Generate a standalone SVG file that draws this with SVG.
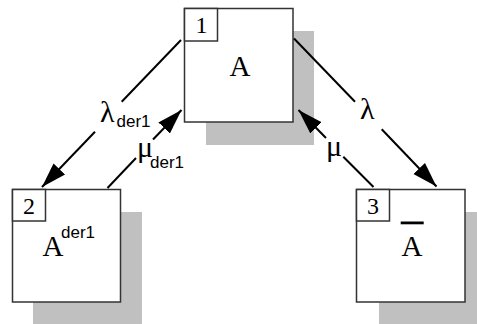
<svg xmlns="http://www.w3.org/2000/svg" width="477" height="324" viewBox="0 0 477 324">
<style>
.shadow{fill:#c0c0c0;stroke:none}
.box{fill:#fff;stroke:#333;stroke-width:1.5}
.serif{font-family:"Liberation Serif","Times New Roman",serif;fill:#000}
.sans{font-family:"Liberation Sans",Arial,sans-serif;fill:#000}
.conn{stroke:#000;stroke-width:2;fill:none}
</style>
<defs>
<marker id="ah" markerUnits="userSpaceOnUse" markerWidth="28" markerHeight="20" viewBox="0 -10 28 20" refX="25" refY="0" orient="auto">
<path d="M0,-8 L25,0 L0,8 Z" fill="#000"/>
</marker>
</defs>
<rect width="477" height="324" fill="#fff"/>
<g id="node1">
<rect class="shadow" x="206" y="31" width="108" height="114"/>
<rect class="box" x="184.5" y="8.5" width="108.5" height="113.5"/>
<rect class="box" x="184.5" y="8.5" width="33" height="32.5"/>
<text class="serif" x="201.5" y="33" font-size="24" text-anchor="middle">1</text>
<text class="serif" x="240" y="76" font-size="29" text-anchor="middle">A</text>
</g>
<g id="node2">
<rect class="shadow" x="33" y="212" width="109" height="114"/>
<rect class="box" x="12.5" y="189.5" width="108" height="112.5"/>
<rect class="box" x="12.5" y="189.5" width="33" height="31.5"/>
<text class="serif" x="29" y="213.5" font-size="24" text-anchor="middle">2</text>
<text class="serif" x="42.5" y="256" font-size="29">A</text>
<text class="sans" x="61" y="238" font-size="17">der1</text>
</g>
<g id="node3">
<rect class="shadow" x="379" y="212" width="109" height="114"/>
<rect class="box" x="356.5" y="189.5" width="108.5" height="112.5"/>
<rect class="box" x="356.5" y="189.5" width="33" height="31.5"/>
<text class="serif" x="373" y="213.5" font-size="24" text-anchor="middle">3</text>
<rect x="400.7" y="221.5" width="23" height="2.8" fill="#000"/>
<text class="serif" x="412" y="256" font-size="29" text-anchor="middle">A</text>
</g>
<g id="connectors">
<line class="conn" x1="181" y1="40" x2="121.7" y2="101.7"/>
<line class="conn" x1="95" y1="131.7" x2="42" y2="187" marker-end="url(#ah)"/>
<line class="conn" x1="107.5" y1="188" x2="136" y2="158"/>
<line class="conn" x1="153" y1="139.5" x2="181.5" y2="110" marker-end="url(#ah)"/>
<line class="conn" x1="294" y1="38.5" x2="355" y2="101.7"/>
<line class="conn" x1="381.7" y1="129.3" x2="436.5" y2="186.5" marker-end="url(#ah)"/>
<line class="conn" x1="373.5" y1="187" x2="343.3" y2="156.7"/>
<line class="conn" x1="326" y1="138" x2="298.5" y2="110" marker-end="url(#ah)"/>
</g>
<g id="labels">
<text class="serif" x="100" y="121.5" font-size="30">λ</text>
<text class="sans" x="116.5" y="127" font-size="17">der1</text>
<text class="serif" x="137" y="157" font-size="30">μ</text>
<text class="sans" x="150" y="168" font-size="17">der1</text>
<text class="serif" x="360" y="118.5" font-size="30">λ</text>
<text class="serif" x="326" y="156" font-size="30">μ</text>
</g>
</svg>
